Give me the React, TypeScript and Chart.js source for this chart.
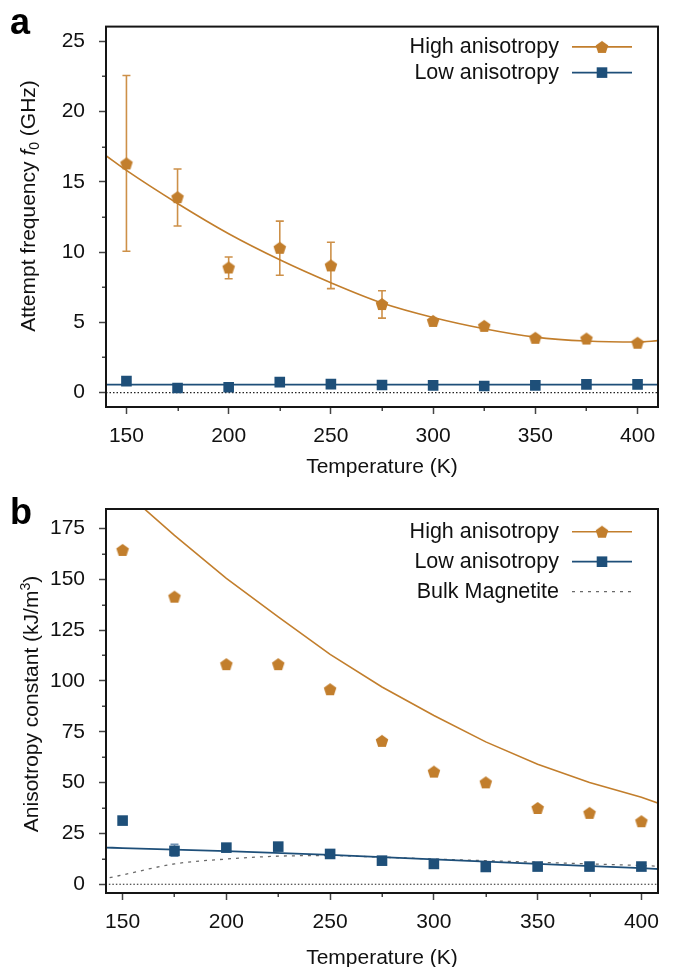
import React, { useEffect, useRef } from 'react';
import { Chart, registerables } from 'chart.js';
Chart.register(...registerables);

const FONT = '"Liberation Sans", Arial, Helvetica, sans-serif';
const ORANGE = '#C27E2C';
const ORANGE_ERR = '#CD9048';
const BLUE = '#1E4F79';
const BLUE_ERR = '#6F90B2';
const GRAY = '#6a6a6a';
const TICK = '#444444';
const INK = '#111111';

// ---------- shared ----------
const temps = [150, 175, 200, 225, 250, 275, 300, 325, 350, 375, 400];
const xMajor = [150, 200, 250, 300, 350, 400];
const xMinor = [175, 225, 275, 325, 375];

// ---------- panel a : attempt frequency (GHz) ----------
const highFreq = [16.3, 13.9, 8.9, 10.3, 9.05, 6.3, 5.1, 4.75, 3.9, 3.85, 3.55];
const highFreqErrLow = [10.05, 11.85, 8.1, 8.35, 7.4, 5.3, null, null, null, null, null];
const highFreqErrHigh = [22.55, 15.9, 9.65, 12.2, 10.7, 7.25, null, null, null, null, null];
const lowFreq = [0.82, 0.33, 0.38, 0.75, 0.61, 0.54, 0.52, 0.47, 0.52, 0.59, 0.59];
const highFreqFitT = [140, 150, 175, 200, 225, 250, 275, 300, 325, 350, 375, 400, 410];
const highFreqFit = [16.85, 15.8, 13.45, 11.3, 9.45, 7.82, 6.38, 5.35, 4.55, 3.95, 3.67, 3.6, 3.7];
const lowFreqFitT = [140, 410];
const lowFreqFit = [0.57, 0.57];
const freqMajor = [0, 5, 10, 15, 20, 25];
const freqMinor = [2.5, 7.5, 12.5, 17.5, 22.5];

// ---------- panel b : anisotropy constant (kJ/m3) ----------
const highK = [164.4, 141.4, 108.2, 108.2, 95.9, 70.5, 55.4, 50.1, 37.5, 35.1, 31.0];
const lowK = [31.3, 16.4, 18.0, 18.5, 14.9, 11.6, 10.0, 8.5, 8.7, 8.7, 8.7];
const lowKErrLow = [null, 13.8, 16.4, null, null, null, null, null, null, null, null];
const lowKErrHigh = [null, 19.6, 19.7, null, null, null, null, null, null, null, null];
const highKFitT = [150, 175, 200, 225, 250, 275, 300, 325, 350, 375, 400, 410];
const highKFit = [194, 171.5, 150.4, 131.5, 113, 97, 83, 70, 59, 50, 42.8, 39.1];
const lowKFitT = [140, 150, 200, 250, 300, 350, 400, 410];
const lowKFit = [18.1, 17.8, 16.3, 14.4, 12.2, 10.0, 7.9, 7.4];
const bulkT = [140, 150, 175, 200, 225, 250, 275, 300, 325, 350, 375, 400, 410];
const bulkK = [2.4, 4.6, 10.0, 12.4, 13.8, 14.1, 13.3, 12.4, 11.6, 10.8, 10.0, 9.2, 8.8];
const kMajor = [0, 25, 50, 75, 100, 125, 150, 175];
const kMinor = [12.5, 37.5, 62.5, 87.5, 112.5, 137.5, 162.5];

const zeroT = [140, 410];
const zeroV = [0, 0];

const pts = (xs: number[], ys: (number | null)[]) => xs.map((x, i) => ({ x, y: ys[i] as number }));

function makePentagon(color: string, r: number) {
  const size = Math.ceil(r * 2) + 2;
  const c = document.createElement('canvas');
  c.width = size;
  c.height = size;
  const ctx = c.getContext('2d')!;
  const cx = size / 2;
  const cy = size / 2 + r * 0.095;
  ctx.beginPath();
  for (let i = 0; i < 5; i++) {
    const a = -Math.PI / 2 + (i * 2 * Math.PI) / 5;
    const x = cx + r * Math.cos(a);
    const y = cy + r * Math.sin(a);
    if (i === 0) ctx.moveTo(x, y);
    else ctx.lineTo(x, y);
  }
  ctx.closePath();
  ctx.fillStyle = color;
  ctx.fill();
  return c;
}

type ErrSet = { x: number[]; lo: (number | null)[]; hi: (number | null)[]; color: string; cap: number };

function errorBarPlugin(sets: ErrSet[]) {
  return {
    id: 'errbars',
    beforeDatasetsDraw(chart: any) {
      const { ctx, chartArea: a, scales } = chart;
      const xs = scales.x;
      const ys = scales.y;
      ctx.save();
      ctx.beginPath();
      ctx.rect(a.left, a.top, a.right - a.left, a.bottom - a.top);
      ctx.clip();
      for (const s of sets) {
        ctx.strokeStyle = s.color;
        ctx.lineWidth = 1.6;
        s.x.forEach((xv, i) => {
          const lo = s.lo[i];
          const hi = s.hi[i];
          if (lo == null || hi == null) return;
          const px = xs.getPixelForValue(xv);
          const p1 = ys.getPixelForValue(lo);
          const p2 = ys.getPixelForValue(hi);
          ctx.beginPath();
          ctx.moveTo(px, p1);
          ctx.lineTo(px, p2);
          ctx.moveTo(px - s.cap, p1);
          ctx.lineTo(px + s.cap, p1);
          ctx.moveTo(px - s.cap, p2);
          ctx.lineTo(px + s.cap, p2);
          ctx.stroke();
        });
      }
      ctx.restore();
    },
  };
}

function framePlugin(xMin: number[], yMin: number[]) {
  return {
    id: 'frame',
    afterDraw(chart: any) {
      const { ctx, chartArea: a, scales } = chart;
      ctx.save();
      ctx.strokeStyle = TICK;
      ctx.lineWidth = 1.5;
      ctx.beginPath();
      for (const v of xMin) {
        const px = Math.round(scales.x.getPixelForValue(v)) + 0.25;
        ctx.moveTo(px, a.bottom);
        ctx.lineTo(px, a.bottom + 4);
      }
      for (const v of yMin) {
        const py = Math.round(scales.y.getPixelForValue(v)) + 0.25;
        ctx.moveTo(a.left - 4, py);
        ctx.lineTo(a.left, py);
      }
      ctx.stroke();
      ctx.strokeStyle = '#151515';
      ctx.lineWidth = 2;
      ctx.strokeRect(a.left, a.top, a.right - a.left, a.bottom - a.top);
      ctx.restore();
    },
  };
}

type LegItem = { label: string; color: string; width: number; dash?: number[]; marker?: 'pent' | 'square' };

function legendPlugin(items: LegItem[], first: number, spacing: number, pent: HTMLCanvasElement) {
  return {
    id: 'customLegend',
    afterDraw(chart: any) {
      const { ctx, chartArea: a } = chart;
      ctx.save();
      ctx.font = `21.5px ${FONT}`;
      ctx.textAlign = 'right';
      ctx.textBaseline = 'middle';
      items.forEach((it, i) => {
        const y = a.top + first + i * spacing;
        ctx.fillStyle = INK;
        ctx.fillText(it.label, a.right - 99, y + 0.5);
        ctx.strokeStyle = it.color;
        ctx.lineWidth = it.width;
        ctx.setLineDash(it.dash || []);
        ctx.beginPath();
        ctx.moveTo(a.right - 86, y);
        ctx.lineTo(a.right - 26, y);
        ctx.stroke();
        ctx.setLineDash([]);
        const mx = a.right - 56;
        if (it.marker === 'pent') {
          ctx.drawImage(pent, mx - pent.width / 2, y - pent.height / 2);
        } else if (it.marker === 'square') {
          ctx.fillStyle = it.color;
          ctx.fillRect(mx - 5.3, y - 5.3, 10.6, 10.6);
        }
      });
      ctx.restore();
    },
  };
}

function axes(xmin: number, xmax: number, ymin: number, ymax: number, yTicks: number[], xH: number) {
  const grid = {
    display: true,
    drawOnChartArea: false,
    drawTicks: true,
    tickLength: 7,
    tickColor: TICK,
    tickWidth: 1.5,
  };
  return {
    x: {
      type: 'linear',
      min: xmin,
      max: xmax,
      afterBuildTicks: (ax: any) => {
        ax.ticks = xMajor.map((v) => ({ value: v }));
      },
      afterFit: (s: any) => {
        s.height = xH;
      },
      grid,
      border: { display: false },
      ticks: { color: INK, font: { size: 21, family: FONT }, padding: 10, maxRotation: 0, autoSkip: false },
      title: { display: true, text: 'Temperature (K)', color: INK, font: { size: 21, family: FONT }, padding: 0 },
    },
    y: {
      type: 'linear',
      min: ymin,
      max: ymax,
      afterBuildTicks: (ax: any) => {
        ax.ticks = yTicks.map((v) => ({ value: v }));
      },
      afterFit: (s: any) => {
        s.width = 106;
      },
      grid,
      border: { display: false },
      ticks: { color: INK, font: { size: 21, family: FONT }, padding: 14, autoSkip: false },
    },
  };
}

export default function App() {
  const refA = useRef<HTMLCanvasElement>(null);
  const refB = useRef<HTMLCanvasElement>(null);

  useEffect(() => {
    Chart.defaults.font.family = FONT;
    const pent = makePentagon(ORANGE, 6.6);
    const common = {
      responsive: false,
      maintainAspectRatio: false,
      animation: false as const,
      events: [] as any[],
      plugins: { legend: { display: false }, tooltip: { enabled: false } },
    };

    const chartA = new Chart(refA.current!, {
      type: 'line',
      data: {
        datasets: [
          { data: pts(temps, highFreq), showLine: false, pointStyle: pent as any, pointRadius: 6, order: 0 },
          { data: pts(temps, lowFreq), showLine: false, pointStyle: 'rect', pointRadius: 7.5, pointBackgroundColor: BLUE, pointBorderWidth: 0, order: 0 },
          { data: pts(highFreqFitT, highFreqFit), borderColor: ORANGE, borderWidth: 1.6, pointRadius: 0, cubicInterpolationMode: 'monotone', order: 1 },
          { data: pts(lowFreqFitT, lowFreqFit), borderColor: BLUE, borderWidth: 1.8, pointRadius: 0, order: 1 },
          { data: pts(zeroT, zeroV), borderColor: '#222', borderWidth: 1.2, borderDash: [1.5, 2], pointRadius: 0, order: 2 },
        ] as any,
      },
      options: {
        ...common,
        layout: { padding: { top: 21, right: 18, left: 0, bottom: 0 } },
        scales: axes(140, 410, -1.02, 26.03, freqMajor, 73) as any,
      },
      plugins: [
        errorBarPlugin([{ x: temps, lo: highFreqErrLow, hi: highFreqErrHigh, color: ORANGE_ERR, cap: 4 }]),
        framePlugin(xMinor, freqMinor),
        legendPlugin(
          [
            { label: 'High anisotropy', color: ORANGE, width: 1.6, marker: 'pent' },
            { label: 'Low anisotropy', color: BLUE, width: 1.8, marker: 'square' },
          ],
          20.3,
          25.7,
          pent
        ),
      ],
    } as any);

    const chartB = new Chart(refB.current!, {
      type: 'line',
      data: {
        datasets: [
          { data: pts(temps, highK), showLine: false, pointStyle: pent as any, pointRadius: 6, order: 0 },
          { data: pts(temps, lowK), showLine: false, pointStyle: 'rect', pointRadius: 7.5, pointBackgroundColor: BLUE, pointBorderWidth: 0, order: 0 },
          { data: pts(highKFitT, highKFit), borderColor: ORANGE, borderWidth: 1.6, pointRadius: 0, tension: 0, order: 1 },
          { data: pts(lowKFitT, lowKFit), borderColor: BLUE, borderWidth: 1.8, pointRadius: 0, cubicInterpolationMode: 'monotone', order: 1 },
          { data: pts(bulkT, bulkK), borderColor: GRAY, borderWidth: 1.3, borderDash: [3, 5], pointRadius: 0, cubicInterpolationMode: 'monotone', order: 1 },
          { data: pts(zeroT, zeroV), borderColor: '#222', borderWidth: 1.2, borderDash: [1.5, 2], pointRadius: 0, order: 2 },
        ] as any,
      },
      options: {
        ...common,
        layout: { padding: { top: 29, right: 18, left: 0, bottom: 0 } },
        scales: axes(142, 408, -4.3, 184.5, kMajor, 78) as any,
      },
      plugins: [
        errorBarPlugin([{ x: temps, lo: lowKErrLow, hi: lowKErrHigh, color: BLUE_ERR, cap: 4 }]),
        framePlugin(xMinor, kMinor),
        legendPlugin(
          [
            { label: 'High anisotropy', color: ORANGE, width: 1.6, marker: 'pent' },
            { label: 'Low anisotropy', color: BLUE, width: 1.8, marker: 'square' },
            { label: 'Bulk Magnetite', color: GRAY, width: 1.3, dash: [3, 5] },
          ],
          22.7,
          30,
          pent
        ),
      ],
    } as any);

    return () => {
      chartA.destroy();
      chartB.destroy();
    };
  }, []);

  const titleStyle: React.CSSProperties = {
    position: 'absolute',
    transform: 'translate(-50%, -50%) rotate(-90deg)',
    whiteSpace: 'nowrap',
    fontSize: 21,
    lineHeight: '24px',
    color: INK,
    fontFamily: FONT,
  };
  const panelStyle: React.CSSProperties = {
    position: 'absolute',
    fontSize: 36,
    fontWeight: 'bold',
    lineHeight: '36px',
    color: '#000',
    fontFamily: FONT,
  };

  return (
    <div style={{ position: 'absolute', left: 0, top: 0, width: 676, height: 967, overflow: 'hidden', background: '#fff', fontFamily: FONT }}>
      <canvas ref={refA} width={676} height={480} style={{ position: 'absolute', left: 0, top: 0, width: 676, height: 480 }} />
      <canvas ref={refB} width={676} height={491} style={{ position: 'absolute', left: 0, top: 480, width: 676, height: 491 }} />
      <div style={{ ...panelStyle, left: 10, top: 4 }}>a</div>
      <div style={{ ...panelStyle, left: 10, top: 494 }}>b</div>
      <div style={{ ...titleStyle, left: 31, top: 206 }}>
        Attempt frequency <i>f</i>
        <span style={{ fontSize: 14, verticalAlign: -4 }}>0</span> (GHz)
      </div>
      <div style={{ ...titleStyle, left: 28, top: 704 }}>
        Anisotropy constant (kJ/m<span style={{ fontSize: 14, verticalAlign: 8 }}>3</span>)
      </div>
    </div>
  );
}
